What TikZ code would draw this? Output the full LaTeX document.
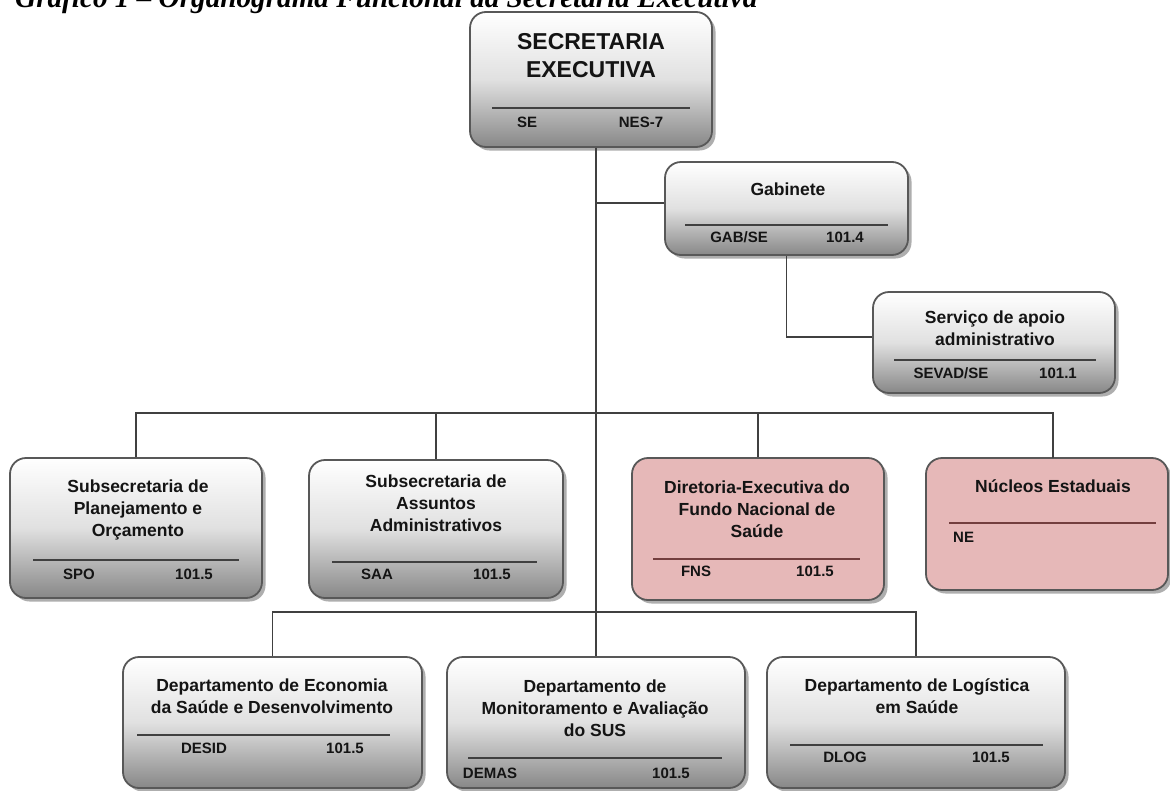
\documentclass[tikz,border=0pt]{standalone}
\usepackage{fontspec}
\setmainfont{Liberation Sans}
\newfontfamily\titlefont{Liberation Serif}
\usetikzlibrary{shadows,fit}
\definecolor{pinkfill}{RGB}{230,184,184}
\definecolor{edgegray}{RGB}{88,88,88}
\definecolor{pinkline}{RGB}{115,62,62}
\tikzset{
  box/.style={draw=edgegray, line width=1.8pt, rounded corners=16pt, inner sep=0pt,
    drop shadow={shadow xshift=3.5pt, shadow yshift=-3.5pt, opacity=0.45, fill=black!70}},
  graybox/.style={box, top color=white, bottom color=black!47, middle color=black!12},
  pinkbox/.style={box, fill=pinkfill},
  conn/.style={draw=black!75, line width=1.3pt},
  divider/.style={draw=black!75, line width=1.3pt},
  pdivider/.style={draw=pinkline, line width=1.3pt},
  lbl/.style={font=\fontsize{17.5}{22}\selectfont\bfseries, align=center, inner sep=0pt, text=black!92},
  biglbl/.style={font=\fontsize{23}{28}\selectfont\bfseries, align=center, inner sep=0pt, text=black!92},
  code/.style={font=\fontsize{15}{16}\selectfont\bfseries, inner sep=0pt, text=black!92},
}
\begin{document}
\begin{tikzpicture}[x=1pt,y=-1pt]
\useasboundingbox (0,0) rectangle (1170,790);
\fill[white] (0,0) rectangle (1170,790);

% title (top cut off by page edge, as in the reference)
\node[anchor=base west, inner sep=0pt, font=\titlefont\bfseries\itshape] (title) at (15,7.5)
  {\resizebox{742pt}{!}{Gráfico 1 – Organograma Funcional da Secretaria Executiva}};

% ---------- boxes ----------
\node[graybox, fit={(470,12) (712,147)}] (se) {};
\node[graybox, fit={(665,162) (908,255)}] (gab) {};
\node[graybox, fit={(873,292) (1115,393)}] (sev) {};
\node[graybox, fit={(10,458) (262,598)}] (spo) {};
\node[graybox, fit={(309,460) (563,598)}] (saa) {};
\node[pinkbox, fit={(632,458) (884,600)}] (fns) {};
\node[pinkbox, fit={(926,458) (1168,590)}] (ne) {};
\node[graybox, fit={(123,657) (422,788)}] (des) {};
\node[graybox, fit={(447,657) (745,788)}] (dem) {};
\node[graybox, fit={(767,657) (1065,788)}] (dlog) {};

% ---------- connectors ----------
\coordinate (r1) at (596,413);
\coordinate (r2) at (596,612);
\coordinate (g1) at (596,203);
\coordinate (neTop) at (1053,458);
\draw[conn] (se.south -| dem.north) -- (dem.north);
\draw[conn] (g1) -- (g1 -| gab.west);
\draw[conn] (gab.south) |- ([yshift=5.5pt]sev.west);
\draw[conn] (spo.north) |- (neTop |- r1) -- (neTop);
\draw[conn] (saa.north) -- (saa.north |- r1);
\draw[conn] (fns.north) -- (fns.north |- r1);
\draw[conn] (des.north) |- (dlog.north |- r2) -- (dlog.north);

% ---------- SE ----------
\node[biglbl] (seT) at (591,56) {SECRETARIA\\[0pt]EXECUTIVA};
\draw[divider] (492,108) -- (690,108);
\node[code] (seA) at (527,122) {SE};
\node[code] (seB) at (641,122) {NES-7};

% ---------- Gabinete ----------
\node[lbl] (gabT) at (788,189) {Gabinete};
\draw[divider] (685,225) -- (888,225);
\node[code] (gabA) at (739,237) {GAB/SE};
\node[code] (gabB) at (845,237) {101.4};

% ---------- SEVAD ----------
\node[lbl] (sevT) at (995,328) {Serviço de apoio\\administrativo};
\draw[divider] (894,360) -- (1096,360);
\node[code] (sevA) at (951,373) {SEVAD/SE};
\node[code] (sevB) at (1058,373) {101.1};

% ---------- SPO ----------
\node[lbl] (spoT) at (138,510) {Subsecretaria de\\Planejamento e\\Orçamento};
\draw[divider] (33,560) -- (239,560);
\node[code] (spoA) at (79,574) {SPO};
\node[code] (spoB) at (194,574) {101.5};

% ---------- SAA ----------
\node[lbl] (saaT) at (436,503) {Subsecretaria de\\Assuntos\\Administrativos};
\draw[divider] (332,562) -- (537,562);
\node[code] (saaA) at (377,574) {SAA};
\node[code] (saaB) at (492,574) {101.5};

% ---------- FNS ----------
\node[lbl] (fnsT) at (757,509) {Diretoria-Executiva do\\Fundo Nacional de\\Saúde};
\draw[pdivider] (653,559) -- (860,559);
\node[code] (fnsA) at (696,571) {FNS};
\node[code] (fnsB) at (815,571) {101.5};

% ---------- NE ----------
\node[lbl] (neT) at (1053,486) {Núcleos Estaduais};
\draw[pdivider] (949,523) -- (1156,523);
\node[code, anchor=west] (neA) at (953,537) {NE};

% ---------- DESID ----------
\node[lbl] (desT) at (272,696) {Departamento de Economia\\da Saúde e Desenvolvimento};
\draw[divider] (137,735) -- (390,735);
\node[code] (desA) at (204,748) {DESID};
\node[code] (desB) at (345,748) {101.5};

% ---------- DEMAS ----------
\node[lbl] (demT) at (595,708) {Departamento de\\Monitoramento e Avaliação\\do SUS};
\draw[divider] (468,758) -- (722,758);
\node[code] (demA) at (490,773) {DEMAS};
\node[code] (demB) at (671,773) {101.5};

% ---------- DLOG ----------
\node[lbl] (dlogT) at (917,696) {Departamento de Logística\\em Saúde};
\draw[divider] (790,745) -- (1043,745);
\node[code] (dlogA) at (845,757) {DLOG};
\node[code] (dlogB) at (991,757) {101.5};
\end{tikzpicture}
\end{document}
